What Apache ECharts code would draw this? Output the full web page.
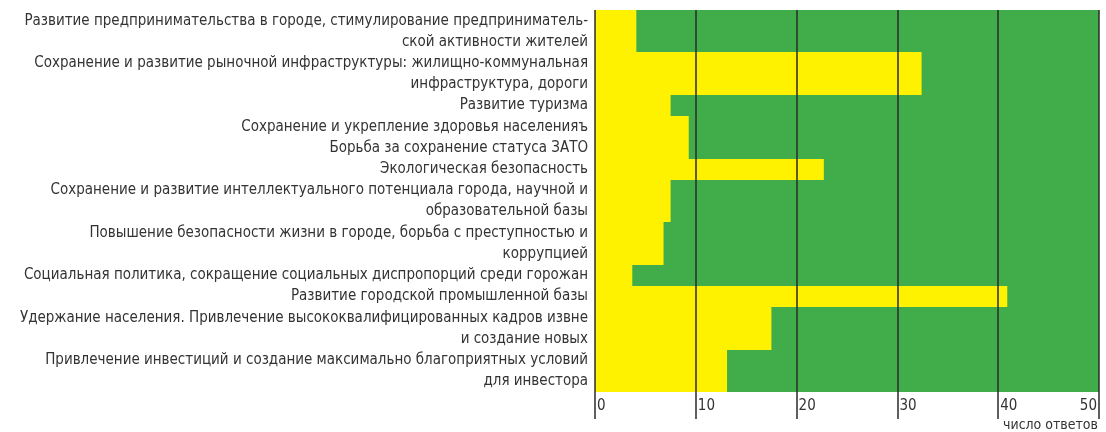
<!DOCTYPE html>
<html>
<head>
<meta charset="utf-8">
<script src="https://cdn.jsdelivr.net/npm/echarts@6/dist/echarts.min.js"></script>
<style>
  html, body { margin: 0; padding: 0; background: #fff; }
  #chart { width: 1106px; height: 432px; }
</style>
</head>
<body>
<div id="chart"></div>
<script>
// Priorities named by respondents (label lines split as printed)
const categories = [
  'Развитие предпринимательства в городе, стимулирование предприниматель-\nской активности жителей',
  'Сохранение и развитие рыночной инфраструктуры: жилищно-коммунальная\nинфраструктура, дороги',
  'Развитие туризма',
  'Сохранение и укрепление здоровья населенияъ',
  'Борьба за сохранение статуса ЗАТО',
  'Экологическая безопасность',
  'Сохранение и развитие интеллектуального потенциала города, научной и\nобразовательной базы',
  'Повышение безопасности жизни в городе, борьба с преступностью и\nкоррупцией',
  'Социальная политика, сокращение социальных диспропорций среди горожан',
  'Развитие городской промышленной базы',
  'Удержание населения. Привлечение высококвалифицированных кадров извне\nи создание новых',
  'Привлечение инвестиций и создание максимально благоприятных условий\nдля инвестора'
];

// Number of answers per priority
const values = [4.1, 32.4, 7.5, 9.3, 9.3, 22.7, 7.5, 6.8, 3.7, 40.9, 17.5, 13.1];

// Value axis ticks
const tickValues = [0, 10, 20, 30, 40, 50];
const axisTitle = 'число ответов';

// Each row is as tall as its label has lines
const rows = [];
let cursor = 0;
categories.forEach((label, i) => {
  const lines = label.split('\n').length;
  rows.push([values[i], cursor, cursor + lines, i]);
  cursor += lines;
});
const totalLines = cursor;

const FONT = '"DejaVu Sans Condensed", "DejaVu Sans", sans-serif';
const TEXT = '#333333';
const GRID_LINE = '#2b2b2b';

const chart = echarts.init(document.getElementById('chart'), null, { renderer: 'canvas' });

chart.setOption({
  animation: false,
  title: {
    text: axisTitle,
    right: 8,
    top: 418,
    padding: 0,
    textStyle: { fontFamily: FONT, fontSize: 14, fontWeight: 'normal', color: TEXT }
  },
  grid: {
    left: 595,
    right: 7,
    top: 10,
    bottom: 40,
    show: true,
    backgroundColor: '#41ad4a',
    borderWidth: 0
  },
  xAxis: {
    type: 'value',
    position: 'bottom',
    min: tickValues[0],
    max: tickValues[tickValues.length - 1],
    interval: tickValues[1] - tickValues[0],
    z: 10,
    axisLine: { show: false, onZero: false },
    axisTick: { show: true, length: 27, lineStyle: { color: GRID_LINE, width: 1.5 } },
    splitLine: { show: true, lineStyle: { color: GRID_LINE, width: 1.5 } },
    axisLabel: {
      margin: 7,
      align: 'left',
      alignMaxLabel: 'right',
      padding: [0, 2, 0, 2],
      fontFamily: FONT,
      fontSize: 15,
      color: TEXT
    }
  },
  yAxis: {
    type: 'value',
    min: 0,
    max: totalLines,
    inverse: true,
    show: false
  },
  series: [{
    type: 'custom',
    clip: false,
    encode: { x: 0, y: [1, 2] },
    data: rows,
    renderItem: function (params, api) {
      const v = api.value(0);
      const y0 = api.value(1);
      const y1 = api.value(2);
      const idx = api.value(3);
      const p0 = api.coord([0, y0]);
      const p1 = api.coord([v, y1]);
      const top = Math.round(p0[1]);
      const bottom = Math.round(p1[1]);
      return {
        type: 'group',
        children: [
          {
            type: 'rect',
            shape: { x: p0[0], y: top, width: p1[0] - p0[0], height: bottom - top },
            style: { fill: '#fff200' }
          },
          {
            type: 'text',
            x: p0[0] - 7,
            y: (p0[1] + p1[1]) / 2,
            style: {
              text: categories[idx],
              align: 'right',
              verticalAlign: 'middle',
              lineHeight: 21,
              fontFamily: FONT,
              fontSize: 15,
              fill: TEXT
            }
          }
        ]
      };
    }
  }]
});
</script>
</body>
</html>
